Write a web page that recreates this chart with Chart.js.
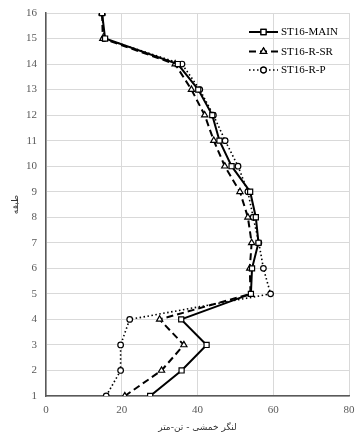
<!DOCTYPE html>
<html>
<head>
<meta charset="utf-8">
<script src="https://cdn.jsdelivr.net/npm/chart.js@4.4.0/dist/chart.umd.min.js"></script>
<style>
  html, body { margin: 0; padding: 0; background: #fff; }
  #wrap { width: 356px; height: 438px; }
</style>
</head>
<body>
<div id="wrap"><canvas id="momentChart" width="356" height="438"></canvas></div>
<script>
// storeys and bending moment per storey (ton-m)
const floors = [1, 2, 3, 4, 5, 6, 7, 8, 9, 10, 11, 12, 13, 14, 15, 16];
const mainVals = [27.5, 35.8, 42.4, 35.7, 54.1, 54.4, 56.1, 55.4, 53.9, 49.0, 45.8, 43.9, 40.2, 34.8, 15.6, 14.8];
const srVals = [20.8, 30.5, 36.4, 30.0, 54.0, 53.8, 54.3, 53.3, 51.2, 47.2, 44.3, 41.9, 38.4, 34.1, 15.0, 14.8];
const pVals = [15.9, 19.7, 19.7, 22.1, 59.3, 57.4, 56.2, 54.7, 53.3, 50.7, 47.3, 44.2, 40.6, 35.9, 15.3, 14.8];
const seriesNames = ['ST16-MAIN', 'ST16-R-SR', 'ST16-R-P'];
const xTicks = [0, 20, 40, 60, 80];

const toPoints = vals => vals.map((v, i) => ({ x: v, y: floors[i] }));

const styles = [
  { dash: [], width: 2, point: 'rect', r: 3.6 },
  { dash: [7, 4], width: 2, point: 'triangle', r: 3.6 },
  { dash: [1.5, 2.5], width: 1.6, point: 'circle', r: 2.8 },
];

const datasets = [mainVals, srVals, pVals].map((vals, i) => ({
  label: seriesNames[i],
  data: toPoints(vals),
  showLine: true,
  borderColor: '#000',
  borderWidth: styles[i].width,
  borderDash: styles[i].dash,
  pointStyle: styles[i].point,
  pointRadius: styles[i].r,
  pointBorderWidth: 1.2,
  pointBorderColor: '#000',
  pointBackgroundColor: '#fff',
  tension: 0,
}));

// legend drawn as line + marker samples, like the spreadsheet legend
const lineLegend = {
  id: 'lineLegend',
  afterDraw(chart) {
    const ctx = chart.ctx;
    const x0 = 249, x1 = 278, rows = [32, 51.5, 70];
    chart.data.datasets.forEach((ds, i) => {
      const y = rows[i];
      ctx.save();
      ctx.strokeStyle = '#000';
      ctx.lineWidth = ds.borderWidth;
      ctx.setLineDash(ds.borderDash);
      ctx.beginPath();
      ctx.moveTo(x0, y);
      ctx.lineTo(x1, y);
      ctx.stroke();
      ctx.setLineDash([]);
      ctx.lineWidth = ds.pointBorderWidth;
      ctx.fillStyle = '#fff';
      Chart.helpers.drawPoint(ctx, { pointStyle: ds.pointStyle, radius: ds.pointRadius, borderWidth: ds.pointBorderWidth, rotation: 0 }, (x0 + x1) / 2, y);
      ctx.fill();
      ctx.stroke();
      ctx.fillStyle = '#000';
      ctx.font = '11px "Liberation Serif"';
      ctx.textBaseline = 'middle';
      ctx.textAlign = 'left';
      ctx.fillText(ds.label, x1 + 3, y + 0.5);
      ctx.restore();
    });
  }
};

new Chart(document.getElementById('momentChart'), {
  type: 'scatter',
  data: { datasets },
  options: {
    responsive: false,
    animation: false,
    layout: { padding: { top: 13, right: 7, left: 0, bottom: 0 } },
    plugins: {
      legend: { display: false },
      tooltip: { enabled: false },
    },
    scales: {
      x: {
        type: 'linear',
        min: 0,
        max: 80,
        afterBuildTicks: axis => { axis.ticks = xTicks.map(v => ({ value: v })); },
        afterFit: axis => { axis.height = 42; axis.paddingLeft = 0; axis.paddingRight = 0; },
        grid: { color: '#d9d9d9', lineWidth: 1, drawTicks: false },
        border: { color: '#595959', width: 1.5 },
        ticks: { padding: 8, color: '#595959', font: { family: 'Liberation Serif', size: 11 } },
        title: {
          display: true,
          text: 'لنگر خمشی - تن-متر',
          color: '#333',
          font: { family: 'DejaVu Sans', size: 9 },
          padding: { top: 6, bottom: 5 },
        },
      },
      y: {
        type: 'linear',
        min: 1,
        max: 16,
        afterFit: axis => { axis.width = 46; axis.paddingTop = 0; axis.paddingBottom = 0; },
        grid: { color: '#d9d9d9', lineWidth: 1, drawTicks: false },
        border: { color: '#595959', width: 1.5 },
        ticks: { stepSize: 1, padding: 9, color: '#595959', font: { family: 'Liberation Serif', size: 11 } },
        title: {
          display: true,
          text: 'طبقه',
          color: '#333',
          font: { family: 'DejaVu Sans', size: 9 },
          padding: { top: 10, bottom: 4 },
        },
      },
    },
  },
  plugins: [lineLegend],
});
</script>
</body>
</html>
